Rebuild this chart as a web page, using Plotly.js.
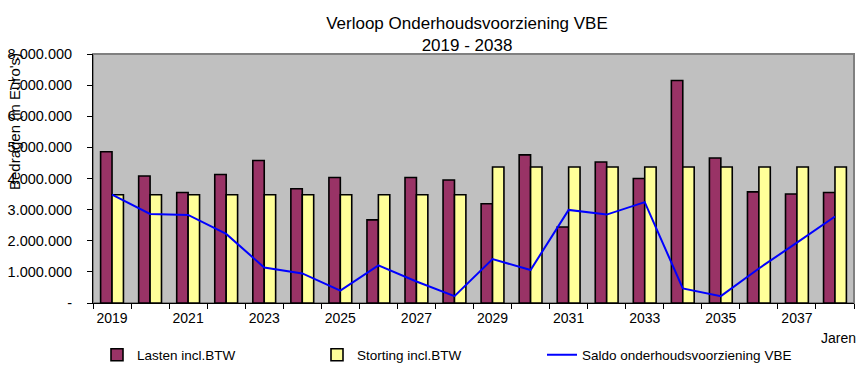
<!DOCTYPE html>
<html>
<head>
<meta charset="utf-8">
<script src="https://cdn.plot.ly/plotly-3.0.1.min.js"></script>
<style>html,body{margin:0;padding:0;background:#fff;}#chart{width:865px;height:373px;}</style>
</head>
<body>
<div id="chart"></div>
<script>
const years = [2019,2020,2021,2022,2023,2024,2025,2026,2027,2028,2029,2030,2031,2032,2033,2034,2035,2036,2037,2038];
const lasten = [4860000,4080000,3550000,4130000,4580000,3670000,4030000,2670000,4030000,3950000,3190000,4760000,2440000,4530000,4000000,7150000,4660000,3570000,3500000,3550000];
const storting = [3480000,3480000,3480000,3480000,3480000,3480000,3480000,3480000,3480000,3480000,4370000,4370000,4370000,4370000,4370000,4370000,4370000,4370000,4370000,4370000];
const saldo = [3480000,2860000,2830000,2220000,1140000,950000,400000,1210000,690000,220000,1410000,1060000,2990000,2840000,3240000,470000,220000,1110000,1940000,2780000];
const yTickVals = [0,1000000,2000000,3000000,4000000,5000000,6000000,7000000,8000000];
const yTickText = ['-','1.000.000','2.000.000','3.000.000','4.000.000','5.000.000','6.000.000','7.000.000','8.000.000'];
const xLabelYears = [2019,2021,2023,2025,2027,2029,2031,2033,2035,2037];
const seriesNames = ['Lasten incl.BTW','Storting incl.BTW','Saldo onderhoudsvoorziening VBE'];

const boundaries = years.map(y => y - 0.5).concat([years[years.length-1] + 0.5]);
const FONT = 'Liberation Sans, Arial, sans-serif';

const traces = [
  {type:'bar', name:seriesNames[0], x:years, y:lasten, legend:'legend',
   marker:{color:'#993366', line:{color:'#000000', width:1.6}}, hoverinfo:'skip'},
  {type:'bar', name:seriesNames[1], x:years, y:storting, legend:'legend2',
   marker:{color:'#FFFF99', line:{color:'#000000', width:1.6}}, hoverinfo:'skip'},
  {type:'scatter', mode:'lines', name:seriesNames[2], x:years, y:saldo, legend:'legend3',
   line:{color:'#0000FF', width:2}, hoverinfo:'skip'}
];

function legendAt(px) {
  return {orientation:'h', x:(px-93)/761, xanchor:'left', y:-0.209, yanchor:'middle',
          font:{family:FONT, size:13.5, color:'#000000'}, bgcolor:'rgba(0,0,0,0)'};
}

const layout = {
  width:865, height:373,
  margin:{l:93, r:11, t:54, b:70, autoexpand:false},
  paper_bgcolor:'#FFFFFF',
  plot_bgcolor:'#C0C0C0',
  font:{family:FONT, color:'#000000', size:14},
  title:{text:'Verloop Onderhoudsvoorziening VBE<br>2019 - 2038',
         font:{family:FONT, size:17, color:'#000000'},
         x:467/865, xref:'container', xanchor:'center',
         y:1-29/373, yref:'container', yanchor:'top', automargin:false},
  barmode:'group', bargap:0.4, bargroupgap:0,
  showlegend:true,
  legend:legendAt(97),
  legend2:legendAt(317),
  legend3:legendAt(542),
  xaxis:{type:'linear', range:[2018.5, 2038.5], fixedrange:true,
         tickmode:'array', tickvals:xLabelYears, ticktext:xLabelYears.map(String),
         ticks:'outside', ticklen:2, tickcolor:'rgba(0,0,0,0)',
         tickfont:{family:FONT, size:14, color:'#000000'},
         showgrid:false, zeroline:false,
         showline:true, linecolor:'#000000', linewidth:1,
         minor:{tickmode:'array', tickvals:boundaries, ticks:'outside', ticklen:5, tickcolor:'#000000', tickwidth:1, showgrid:false}},
  yaxis:{range:[0, 8000000], fixedrange:true,
         tickmode:'array', tickvals:yTickVals, ticktext:yTickText,
         ticks:'outside', ticklen:5, tickcolor:'#000000', tickwidth:1,
         ticklabelstandoff:12,
         tickfont:{family:FONT, size:14.5, color:'#000000'},
         showgrid:false, zeroline:false,
         showline:true, linecolor:'#000000', linewidth:1},
  shapes:[
    {type:'rect', xref:'paper', yref:'paper', x0:0, x1:1, y0:0, y1:1,
     line:{color:'#808080', width:2}, layer:'below', fillcolor:'rgba(0,0,0,0)'}
  ],
  annotations:[
    {text:"Bedragen (in Euro's)", textangle:-90, xref:'paper', yref:'paper',
     x:(15-93)/761, y:(303-122)/249, xanchor:'center', yanchor:'middle',
     showarrow:false, font:{family:FONT, size:15, color:'#000000'}},
    {text:'Jaren', xref:'paper', yref:'paper', x:(858-93)/761, y:(303-338)/249,
     xanchor:'right', yanchor:'middle', showarrow:false,
     font:{family:FONT, size:14, color:'#000000'}}
  ]
};

Plotly.newPlot('chart', traces, layout, {displayModeBar:false, staticPlot:true});
</script>
</body>
</html>
